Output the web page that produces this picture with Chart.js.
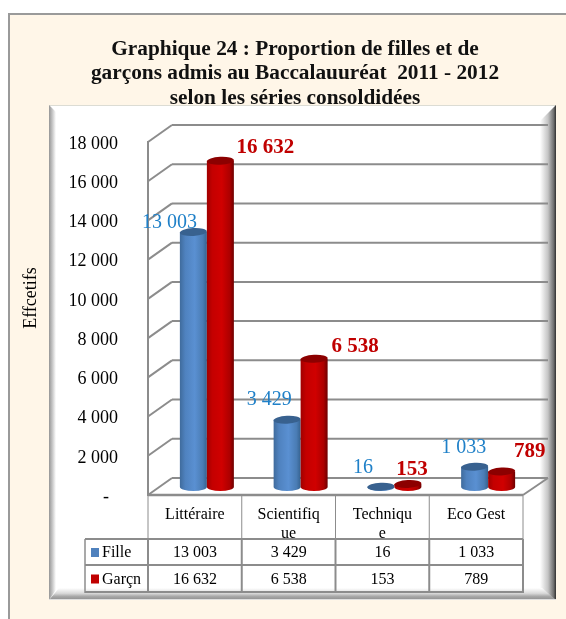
<!DOCTYPE html>
<html>
<head>
<meta charset="utf-8">
<style>
  html, body { margin: 0; padding: 0; background: #fff; }
  canvas { display: block; }
</style>
<script src="https://cdn.jsdelivr.net/npm/chart.js@4"></script>
</head>
<body>
<canvas id="chart" width="566" height="619"></canvas>
<script>
const titleLines = ['Graphique 24 : Proportion de filles et de', 'garçons admis au Baccalauuréat  2011 - 2012', 'selon les séries consoldidées'];
const yAxisTitle = 'Effcetifs';
const categories = ['Littéraire', ['Scientifiq', 'ue'], ['Techniqu', 'e'], 'Eco Gest'];
const seriesNames = ['Fille', 'Garçn'];
const fille = [13003, 3429, 16, 1033];
const garcon = [16632, 6538, 153, 789];
const tickLabels = ['-  ', '2 000', '4 000', '6 000', '8 000', '10 000', '12 000', '14 000', '16 000', '18 000'];

// bars sit in the middle of the fake 3d box
const barShiftX = 12, barShiftY = 8;
const depthX = 24, depthY = 17;
const gridColor = '#8c8c8c';
const serif = '"Liberation Serif", "Times New Roman", serif';

// hand placed value labels, relative to the top of each bar
const labelOffsets = [
    [[-24, -9], [-18, -20], [-18, -19], [-11, -19]],
    [[45, -13], [41, -12], [4, -14], [28, -20]]
];

const barStyles = [
    { stops: ['#3f6b9c', '#4f82bf', '#5a90d2', '#4a7cb4', '#35628f'], top: '#38618f', label: '#1f80c8', key: '#4f81bd', font: '20px ' + serif },
    { stops: ['#a00000', '#c40000', '#d00000', '#ac0000', '#6e0000'], top: '#8c0000', label: '#c00000', key: '#c00000', font: 'bold 21px ' + serif }
];

function fmt(v) {
    return String(v).replace(/\B(?=(\d{3})+$)/g, ' ');
}

function line(c, x1, y1, x2, y2, width) {
    c.lineWidth = width;
    c.beginPath();
    c.moveTo(x1, y1);
    c.lineTo(x2, y2);
    c.stroke();
}

const framePlugin = {
    id: 'frame',
    beforeDraw(chart) {
        const c = chart.ctx;
        const W = chart.width, H = chart.height;
        c.save();
        c.fillStyle = '#fff';
        c.fillRect(0, 0, W, H);
        c.fillStyle = '#fff6e8';
        c.fillRect(9, 13, W - 9, H - 13);
        c.fillStyle = '#9a9a9a';
        c.fillRect(8, 13, 2, H - 13);
        c.fillRect(8, 13, W - 8, 2);

        // white panel with its bevel
        const L = 49, T = 105, R = 556, B = 600;
        c.fillStyle = '#fff';
        c.fillRect(L, T, R - L, B - T);
        c.fillStyle = '#dcdcd4';
        c.fillRect(L, T, R - L, 1);

        let g = c.createLinearGradient(L, 0, L + 7, 0);
        g.addColorStop(0, '#959595');
        g.addColorStop(0.5, '#c8c8c8');
        g.addColorStop(1, '#ffffff');
        c.fillStyle = g;
        c.beginPath();
        c.moveTo(L, T);
        c.lineTo(L + 7, T + 7);
        c.lineTo(L + 7, B - 10);
        c.lineTo(L, B);
        c.fill();

        g = c.createLinearGradient(R - 16, 0, R, 0);
        g.addColorStop(0, '#ffffff');
        g.addColorStop(0.5, '#c4c4c4');
        g.addColorStop(0.85, '#707070');
        g.addColorStop(1, '#303030');
        c.fillStyle = g;
        c.beginPath();
        c.moveTo(R, T);
        c.lineTo(R - 16, T + 16);
        c.lineTo(R - 16, B - 10);
        c.lineTo(R, B);
        c.fill();

        g = c.createLinearGradient(0, B - 12, 0, B);
        g.addColorStop(0, '#ffffff');
        g.addColorStop(0.45, '#d8d8d8');
        g.addColorStop(0.7, '#a8a8a8');
        g.addColorStop(1, '#8e8e8e');
        c.fillStyle = g;
        c.beginPath();
        c.moveTo(L, B);
        c.lineTo(L + 10, B - 12);
        c.lineTo(R - 14, B - 12);
        c.lineTo(R, B);
        c.fill();
        c.fillStyle = '#dfdfdf';
        c.fillRect(L, B - 1, R - L, 1);
        c.restore();
    },
    beforeDatasetsDraw(chart) {
        const c = chart.ctx;
        const area = chart.chartArea;
        const yScale = chart.scales.y;
        c.save();
        c.strokeStyle = gridColor;
        yScale.ticks.forEach(function (tick) {
            const y = yScale.getPixelForValue(tick.value);
            line(c, area.left, y, area.left + depthX, y - depthY, 2);
            line(c, area.left + depthX, y - depthY, area.right + depthX + 1, y - depthY, 2);
        });
        line(c, area.left, area.top - 1, area.left, area.bottom + 1, 2);
        line(c, area.left, area.bottom, area.right, area.bottom, 2.5);
        line(c, area.right, area.bottom, area.right + depthX + 1, area.bottom - depthY, 2);
        c.restore();
    },
    afterDatasetsDraw(chart) {
        const c = chart.ctx;
        c.save();
        chart.data.datasets.forEach(function (ds, i) {
            const style = barStyles[i];
            chart.getDatasetMeta(i).data.forEach(function (el) {
                const cx = el.x + barShiftX;
                const top = el.y - barShiftY;
                const base = el.base - barShiftY;
                const rx = el.width / 2;
                const ry = 4;
                const tilt = -0.05;
                const g = c.createLinearGradient(cx - rx, 0, cx + rx, 0);
                g.addColorStop(0, style.stops[0]);
                g.addColorStop(0.2, style.stops[1]);
                g.addColorStop(0.55, style.stops[2]);
                g.addColorStop(0.85, style.stops[3]);
                g.addColorStop(1, style.stops[4]);
                c.fillStyle = g;
                c.beginPath();
                c.moveTo(cx - rx, top);
                c.lineTo(cx - rx, base);
                c.ellipse(cx, base, rx, ry, 0, Math.PI, 0, true);
                c.lineTo(cx + rx, top);
                c.closePath();
                c.fill();
                c.fillStyle = style.top;
                c.beginPath();
                c.ellipse(cx, top, rx, ry, tilt, 0, Math.PI * 2);
                c.fill();
            });
        });
        c.restore();
    },
    afterDraw(chart) {
        const c = chart.ctx;
        const area = chart.chartArea;
        const xScale = chart.scales.x;
        const colW = (area.right - area.left) / categories.length;
        const row0 = area.bottom + 44, row1 = area.bottom + 70, row2 = area.bottom + 97;
        const tableLeft = 85;
        c.save();

        // rotated axis title
        c.fillStyle = '#000';
        c.font = '18px ' + serif;
        c.textAlign = 'center';
        c.textBaseline = 'middle';
        c.save();
        c.translate(31, 298);
        c.rotate(-Math.PI / 2);
        c.fillText(yAxisTitle, 0, 0);
        c.restore();

        // data table under the chart
        c.strokeStyle = gridColor;
        for (let i = 0; i <= categories.length; i++) {
            const x = area.left + i * colW;
            line(c, x, area.bottom, x, row0, 1);
            line(c, x, row0, x, row2 + 1, 2);
        }
        [row0, row1, row2].forEach(function (y) {
            line(c, tableLeft, y, area.right, y, 2);
        });
        line(c, tableLeft, row0, tableLeft, row2 + 1, 1.5);

        c.font = '16px ' + serif;
        c.textBaseline = 'middle';
        [fille, garcon].forEach(function (values, i) {
            const rowY = (i === 0 ? (row0 + row1) / 2 : (row1 + row2) / 2) + 1;
            c.fillStyle = barStyles[i].key;
            c.fillRect(91, rowY - 5, 8, 9);
            c.fillStyle = '#000';
            c.textAlign = 'left';
            c.fillText(seriesNames[i], 102, rowY);
            c.textAlign = 'center';
            values.forEach(function (v, j) {
                c.fillText(fmt(v), xScale.getPixelForTick(j), rowY);
            });
        });

        // value labels
        chart.data.datasets.forEach(function (ds, i) {
            chart.getDatasetMeta(i).data.forEach(function (el, j) {
                c.fillStyle = barStyles[i].label;
                c.font = barStyles[i].font;
                c.textAlign = 'center';
                c.fillText(fmt(ds.data[j]), el.x + barShiftX + labelOffsets[i][j][0], el.y - barShiftY + labelOffsets[i][j][1]);
            });
        });
        c.restore();
    }
};

new Chart(document.getElementById('chart').getContext('2d'), {
    type: 'bar',
    data: {
        labels: categories,
        datasets: [
            { label: seriesNames[0], data: fille, backgroundColor: 'transparent', categoryPercentage: 0.576, barPercentage: 1 },
            { label: seriesNames[1], data: garcon, backgroundColor: 'transparent', categoryPercentage: 0.576, barPercentage: 1 }
        ]
    },
    plugins: [framePlugin],
    options: {
        responsive: false,
        animation: false,
        layout: { padding: { left: 24, right: 0, top: 0, bottom: 0 } },
        plugins: {
            legend: { display: false },
            tooltip: { enabled: false },
            title: {
                display: true,
                text: titleLines,
                color: '#111',
                font: { family: serif, size: 21.33, weight: 'bold', lineHeight: 1.15 },
                padding: { top: 37, bottom: 31.4 }
            }
        },
        scales: {
            x: {
                grid: { display: false, drawTicks: false },
                border: { display: false },
                ticks: {
                    autoSkip: false,
                    maxRotation: 0,
                    padding: 11,
                    color: '#000',
                    font: { family: serif, size: 16, lineHeight: 1.15 }
                },
                afterFit(scale) { scale.height = 124; }
            },
            y: {
                min: 0,
                max: 18000,
                grid: { display: false, drawTicks: false },
                border: { display: false },
                ticks: {
                    stepSize: 2000,
                    padding: 30,
                    labelOffset: 2,
                    color: '#000',
                    font: { family: serif, size: 18 },
                    callback: function (value, index) { return tickLabels[index]; }
                },
                afterFit(scale) { scale.width = 124; }
            },
            // empty right axis, only keeps room for the depth of the box
            side: {
                position: 'right',
                min: 0,
                max: 18000,
                grid: { display: false, drawTicks: false },
                border: { display: false },
                ticks: { display: false },
                afterFit(scale) { scale.width = 43; }
            }
        }
    }
});
</script>
</body>
</html>
